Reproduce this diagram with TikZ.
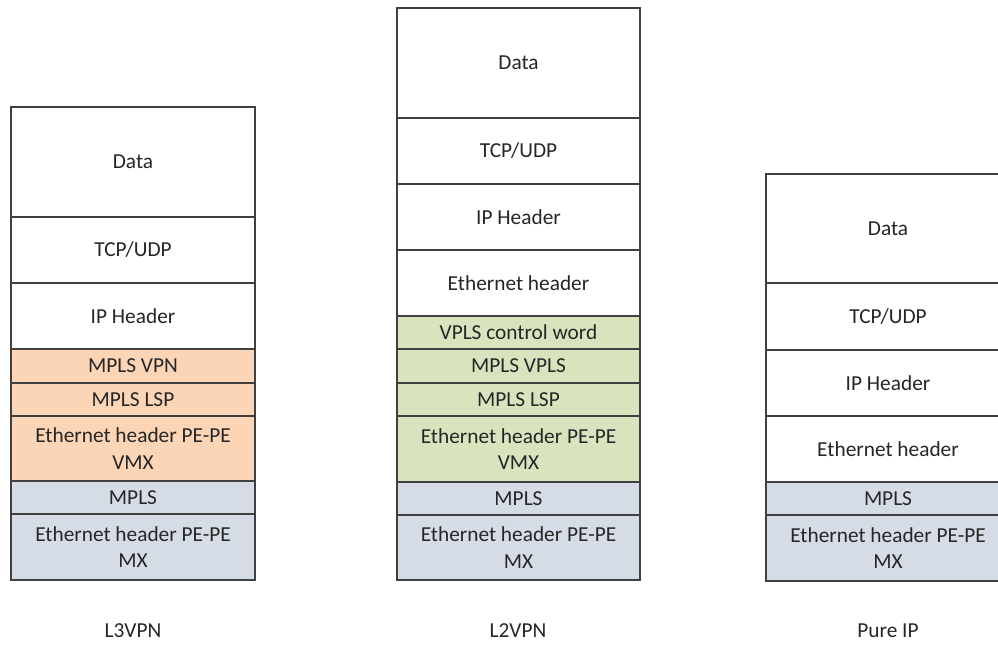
\documentclass[tikz,border=0pt]{standalone}
\usepackage{fontspec}
\setmainfont{Carlito}
\usepackage{tikz}
\usepackage{xcolor}

\definecolor{vpnorange}{HTML}{FBD5B5}
\definecolor{vplsgreen}{HTML}{D7E4BD}
\definecolor{mxblue}{HTML}{D6DCE5}
\definecolor{edge}{HTML}{404040}
\definecolor{ink}{HTML}{262626}

\tikzset{
  layer/.style = {draw = edge, line width = 0.9pt},
  lbl/.style = {text = ink, align = center, font = \fontsize{16}{20}\selectfont},
}

\begin{document}
\begin{tikzpicture}[x=0.75pt, y=-0.75pt]
    \useasboundingbox (0,0) rectangle (998,655);
    \clip (0,0) rectangle (998,655);
    % L3VPN stack
    \draw[layer, fill = white] (11,107) rectangle (255,217) node[midway, lbl] (l3data) {Data};
    \draw[layer, fill = white] (11,217) rectangle (255,283) node[midway, lbl] (l3tcp) {TCP/UDP};
    \draw[layer, fill = white] (11,283) rectangle (255,349) node[midway, lbl] (l3ip) {IP Header};
    \draw[layer, fill = vpnorange] (11,349) rectangle (255,383) node[midway, lbl] (l3vpn) {MPLS VPN};
    \draw[layer, fill = vpnorange] (11,383) rectangle (255,416) node[midway, lbl] (l3lsp) {MPLS LSP};
    \draw[layer, fill = vpnorange] (11,416) rectangle (255,481) node[midway, lbl] (l3eth) {Ethernet header PE-PE\\VMX};
    \draw[layer, fill = mxblue] (11,481) rectangle (255,514) node[midway, lbl] (l3mpls) {MPLS};
    \draw[layer, fill = mxblue] (11,514) rectangle (255,580) node[midway, lbl] (l3mx) {Ethernet header PE-PE\\MX};
    \node[lbl] (l3name) at (133,631) {L3VPN};
    % L2VPN stack
    \draw[layer, fill = white] (397,8) rectangle (640,118) node[midway, lbl] (l2data) {Data};
    \draw[layer, fill = white] (397,118) rectangle (640,184) node[midway, lbl] (l2tcp) {TCP/UDP};
    \draw[layer, fill = white] (397,184) rectangle (640,250) node[midway, lbl] (l2ip) {IP Header};
    \draw[layer, fill = white] (397,250) rectangle (640,316) node[midway, lbl] (l2eth) {Ethernet header};
    \draw[layer, fill = vplsgreen] (397,316) rectangle (640,349) node[midway, lbl] (l2cw) {VPLS control word};
    \draw[layer, fill = vplsgreen] (397,349) rectangle (640,383) node[midway, lbl] (l2vpls) {MPLS VPLS};
    \draw[layer, fill = vplsgreen] (397,383) rectangle (640,416) node[midway, lbl] (l2lsp) {MPLS LSP};
    \draw[layer, fill = vplsgreen] (397,416) rectangle (640,482) node[midway, lbl] (l2vmx) {Ethernet header PE-PE\\VMX};
    \draw[layer, fill = mxblue] (397,482) rectangle (640,515) node[midway, lbl] (l2mpls) {MPLS};
    \draw[layer, fill = mxblue] (397,515) rectangle (640,580) node[midway, lbl] (l2mx) {Ethernet header PE-PE\\MX};
    \node[lbl] (l2name) at (518,631) {L2VPN};
    % Pure IP stack
    \draw[layer, fill = white] (766,174) rectangle (1010,283) node[midway, lbl] (ipdata) {Data};
    \draw[layer, fill = white] (766,283) rectangle (1010,350) node[midway, lbl] (iptcp) {TCP/UDP};
    \draw[layer, fill = white] (766,350) rectangle (1010,416) node[midway, lbl] (ipip) {IP Header};
    \draw[layer, fill = white] (766,416) rectangle (1010,482) node[midway, lbl] (ipeth) {Ethernet header};
    \draw[layer, fill = mxblue] (766,482) rectangle (1010,515) node[midway, lbl] (ipmpls) {MPLS};
    \draw[layer, fill = mxblue] (766,515) rectangle (1010,581) node[midway, lbl] (ipmx) {Ethernet header PE-PE\\MX};
    \node[lbl] (ipname) at (888,631) {Pure IP};
\end{tikzpicture}
\end{document}
